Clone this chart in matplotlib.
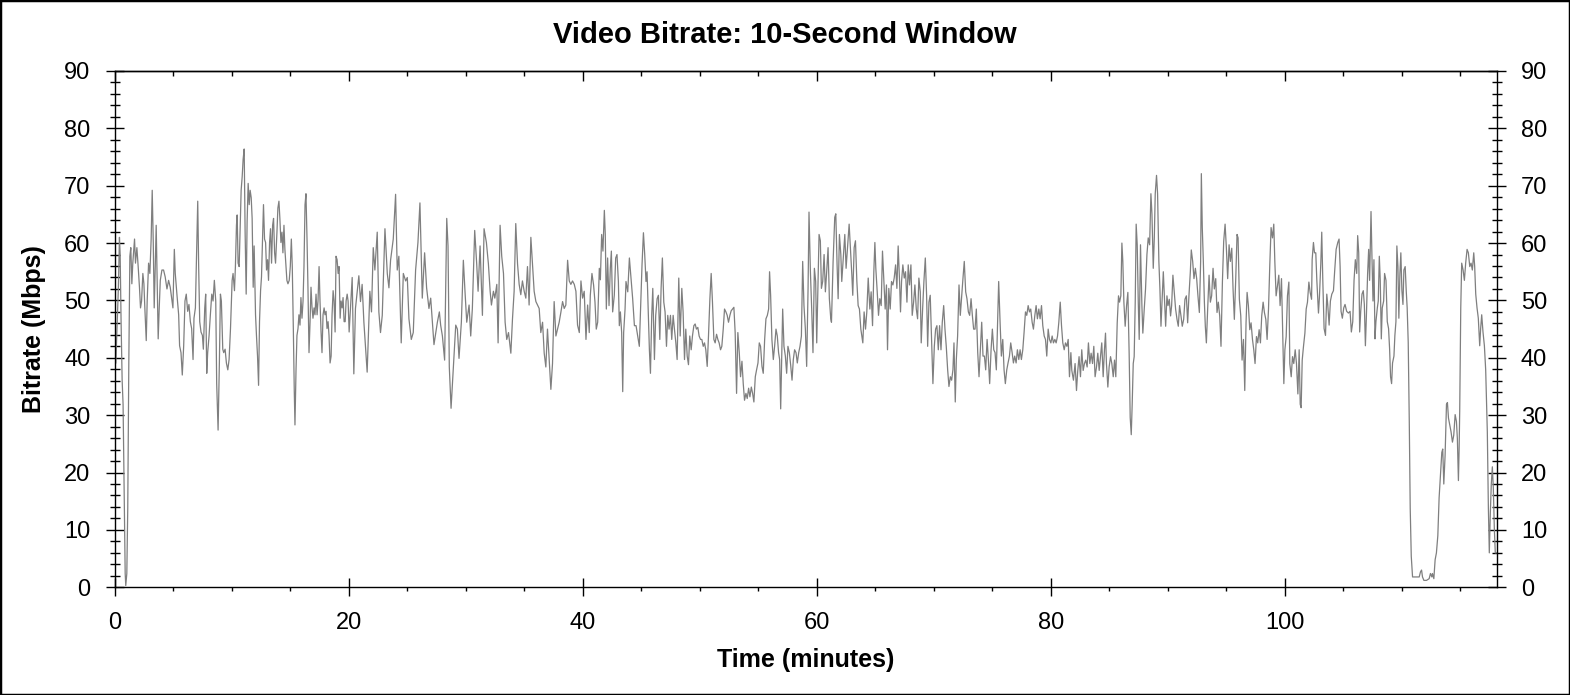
import matplotlib
matplotlib.use("Agg")
import matplotlib.pyplot as plt
from matplotlib.ticker import MultipleLocator
from matplotlib.patches import Rectangle

plt.rcParams["font.family"] = ["Liberation Sans", "DejaVu Sans"]

# --- DATA (minutes, Mbps), one list per stretch ---
seg_0_20 = [
    (0.09, 39.1), (0.31, 52.3), (0.40, 61.0), (0.46, 58.0), (0.54, 46.3), (0.63, 36.1), (0.71, 31.9),
    (0.80, 16.8), (0.89, 2.4), (0.94, 0.3), (1.03, 2.4), (1.11, 13.8), (1.20, 39.1), (1.29, 57.7),
    (1.37, 59.2), (1.46, 52.9), (1.54, 56.5), (1.69, 60.7), (1.77, 56.5), (1.89, 59.2), (2.00, 55.9),
    (2.11, 52.3), (2.20, 48.7), (2.29, 49.9), (2.40, 54.7), (2.49, 52.9), (2.57, 48.7), (2.69, 43.0),
    (2.77, 49.9), (2.89, 56.5), (3.00, 54.7), (3.11, 60.7), (3.20, 69.2), (3.29, 60.1), (3.37, 48.7),
    (3.46, 55.9), (3.54, 63.1), (3.63, 52.9), (3.71, 43.3), (3.80, 48.7), (3.89, 53.5), (4.03, 55.3),
    (4.17, 55.3), (4.31, 54.1), (4.46, 52.0), (4.60, 53.5), (4.74, 52.3), (4.89, 49.9), (4.97, 48.7),
    (5.09, 58.9), (5.17, 54.7), (5.31, 51.1), (5.46, 47.5), (5.54, 42.1), (5.66, 40.9), (5.77, 37.0),
    (5.89, 42.1), (6.00, 49.9), (6.11, 51.1), (6.23, 48.1), (6.34, 49.3), (6.46, 46.3), (6.57, 45.1),
    (6.69, 39.7), (6.77, 46.9), (6.89, 48.7), (6.97, 55.9), (7.09, 67.3), (7.17, 55.9), (7.26, 46.3),
    (7.37, 44.5), (7.49, 43.9), (7.57, 41.5), (7.69, 48.7), (7.77, 51.1), (7.86, 37.3), (7.94, 40.9),
    (8.06, 43.9), (8.17, 47.5), (8.29, 51.1), (8.40, 49.9), (8.51, 53.5), (8.63, 49.9), (8.71, 35.5),
    (8.83, 27.4), (8.94, 39.1), (9.03, 51.1), (9.11, 49.9), (9.23, 41.5), (9.31, 40.9), (9.43, 41.5),
    (9.54, 39.1), (9.66, 37.9), (9.77, 39.7), (9.89, 45.1), (10.03, 53.5), (10.11, 54.7), (10.23, 51.7),
    (10.31, 55.9), (10.40, 63.1), (10.46, 64.9), (10.54, 56.5), (10.63, 55.9), (10.71, 61.9), (10.80, 69.2),
    (10.89, 71.6), (10.97, 74.6), (11.06, 76.4), (11.14, 61.9), (11.23, 51.1), (11.31, 63.7), (11.40, 70.4),
    (11.49, 66.7), (11.57, 69.2), (11.66, 67.9), (11.74, 64.3), (11.83, 52.3), (11.91, 59.5), (12.03, 47.5),
    (12.11, 43.9), (12.20, 40.3), (12.29, 35.2), (12.37, 46.3), (12.46, 51.7), (12.54, 54.1), (12.63, 60.7),
    (12.71, 66.7), (12.80, 60.7), (12.89, 60.1), (12.97, 55.3), (13.06, 57.1), (13.14, 53.5), (13.23, 60.1),
    (13.31, 62.5), (13.40, 56.5), (13.49, 63.1), (13.57, 64.3), (13.66, 58.3), (13.74, 56.5), (13.86, 61.9),
    (13.94, 66.1), (14.03, 67.3), (14.11, 64.3), (14.20, 60.1), (14.29, 61.9), (14.37, 58.3), (14.46, 63.1),
    (14.54, 58.9), (14.63, 55.9), (14.71, 53.5), (14.80, 52.9), (14.91, 53.5), (15.00, 55.9), (15.09, 60.7),
    (15.17, 55.9), (15.26, 45.1), (15.34, 34.3), (15.40, 28.3), (15.49, 37.9), (15.57, 43.9), (15.66, 45.1),
    (15.74, 47.5), (15.83, 45.7), (15.91, 50.5), (16.00, 46.9), (16.09, 49.9), (16.17, 55.9), (16.26, 66.7),
    (16.34, 68.6), (16.43, 60.7), (16.51, 52.3), (16.60, 40.9), (16.69, 46.3), (16.77, 52.3), (16.86, 48.7),
    (16.94, 46.9), (17.03, 48.7), (17.11, 47.5), (17.20, 51.1), (17.29, 47.5), (17.37, 49.9), (17.46, 55.9),
    (17.54, 49.9), (17.63, 44.5), (17.71, 40.9), (17.80, 47.5), (17.89, 48.7), (17.97, 47.5), (18.06, 48.1),
    (18.14, 45.1), (18.23, 46.3), (18.31, 43.9), (18.40, 39.1), (18.49, 40.3), (18.57, 47.5), (18.66, 51.7),
    (18.74, 49.9), (18.83, 44.5), (18.91, 57.7), (19.00, 57.1), (19.09, 54.7), (19.17, 55.9), (19.26, 46.9),
    (19.34, 49.9), (19.43, 48.7), (19.51, 50.5), (19.60, 46.3), (19.69, 46.3), (19.77, 49.9), (19.86, 51.1),
    (19.94, 49.9), (20.03, 44.5),
]

seg_20_40 = [
    (20.29, 54.0), (20.43, 37.2), (20.57, 48.6), (20.86, 54.3), (21.00, 49.8), (21.14, 52.8), (21.29, 46.2),
    (21.57, 37.5), (21.80, 51.6), (21.94, 48.0), (22.09, 59.2), (22.23, 55.3), (22.43, 61.9), (22.57, 48.0),
    (22.71, 44.4), (22.86, 47.4), (23.09, 62.5), (23.29, 54.7), (23.43, 52.2), (23.57, 57.0), (23.80, 60.7),
    (24.00, 68.5), (24.14, 55.3), (24.28, 57.7), (24.48, 42.6), (24.66, 54.7), (24.86, 53.4), (25.00, 54.0),
    (25.14, 46.8), (25.34, 43.2), (25.51, 44.4), (25.71, 55.3), (25.91, 60.1), (26.08, 67.0), (26.28, 50.4),
    (26.48, 58.3), (26.65, 52.2), (26.85, 48.6), (27.00, 50.4), (27.28, 42.3), (27.57, 46.2), (27.74, 48.0),
    (27.85, 45.7), (28.00, 43.8), (28.19, 39.6), (28.37, 64.3), (28.48, 59.5), (28.59, 38.4), (28.74, 31.2),
    (28.94, 38.4), (29.14, 45.7), (29.28, 45.0), (29.42, 39.9), (29.62, 46.2), (29.79, 57.0), (29.93, 51.6),
    (30.08, 46.2), (30.28, 49.2), (30.42, 43.8), (30.56, 48.6), (30.76, 62.2), (30.93, 56.4), (31.05, 51.6),
    (31.22, 59.5), (31.42, 47.4), (31.56, 62.5), (31.76, 60.1), (31.93, 56.4), (32.08, 51.6), (32.19, 49.2),
    (32.36, 51.6), (32.48, 50.4), (32.65, 52.8), (32.76, 42.6), (32.93, 63.1), (33.07, 57.7), (33.22, 54.7),
    (33.36, 46.2), (33.50, 43.2), (33.65, 44.4), (33.85, 40.8), (33.99, 46.8), (34.13, 51.6), (34.27, 63.4),
    (34.42, 56.4), (34.56, 52.8), (34.70, 51.0), (34.84, 53.4), (34.99, 51.6), (35.13, 50.4), (35.27, 55.9),
    (35.41, 49.2), (35.56, 61.0), (35.70, 56.4), (35.84, 51.6), (35.99, 49.8), (36.13, 49.2), (36.27, 48.6),
    (36.41, 44.4), (36.56, 46.2), (36.70, 40.8), (36.84, 38.4), (36.98, 45.0), (37.13, 39.6), (37.27, 34.5),
    (37.41, 39.0), (37.55, 49.8), (37.70, 43.8), (37.84, 45.0), (37.98, 46.2), (38.13, 48.0), (38.27, 49.8),
    (38.41, 48.6), (38.55, 49.2), (38.70, 57.0), (38.84, 53.4), (38.98, 52.8), (39.12, 53.4), (39.27, 52.8),
    (39.41, 51.6), (39.55, 45.7), (39.70, 44.4), (39.84, 53.4), (39.98, 50.4), (40.12, 51.6), (40.27, 43.2),
    (40.41, 49.2), (40.55, 44.4),
]

seg_40_61 = [
    (40.64, 50.9), (40.78, 54.7), (40.92, 52.7), (41.04, 49.7), (41.15, 45.0), (41.27, 46.2), (41.41, 55.6),
    (41.50, 53.6), (41.61, 61.5), (41.72, 58.6), (41.84, 65.7), (41.92, 61.5), (42.01, 48.5), (42.12, 57.4),
    (42.24, 49.1), (42.35, 55.6), (42.44, 58.6), (42.55, 48.0), (42.69, 50.9), (42.81, 57.4), (42.92, 58.0),
    (43.04, 53.3), (43.12, 45.6), (43.21, 48.0), (43.32, 44.4), (43.41, 34.1), (43.49, 44.4), (43.61, 48.5),
    (43.69, 53.3), (43.84, 51.5), (43.98, 57.4), (44.12, 53.9), (44.26, 50.3), (44.41, 45.6), (44.55, 45.6),
    (44.69, 43.8), (44.83, 42.0), (44.98, 51.5), (45.06, 56.2), (45.18, 61.8), (45.29, 58.0), (45.40, 53.3),
    (45.49, 55.0), (45.60, 47.4), (45.69, 41.4), (45.78, 37.3), (45.89, 47.4), (45.98, 52.1), (46.12, 39.7),
    (46.23, 47.4), (46.35, 50.3), (46.46, 50.9), (46.58, 43.2), (46.69, 52.1), (46.80, 57.4), (46.92, 49.7),
    (47.03, 48.0), (47.15, 42.0), (47.26, 47.4), (47.37, 45.0), (47.49, 47.4), (47.60, 43.2), (47.72, 47.4),
    (47.83, 45.0), (47.95, 42.6), (48.06, 39.7), (48.20, 53.9), (48.32, 43.8), (48.46, 52.1), (48.57, 48.0),
    (48.69, 39.7), (48.80, 45.0), (48.92, 40.3), (49.03, 38.8), (49.14, 43.8), (49.26, 41.4), (49.37, 43.8),
    (49.49, 45.6), (49.60, 45.9), (49.71, 45.0), (49.83, 45.3), (49.94, 43.8), (50.06, 43.2), (50.17, 43.2),
    (50.29, 42.0), (50.40, 42.6), (50.51, 41.4), (50.63, 38.5), (50.74, 43.8), (50.86, 50.3), (50.97, 54.7),
    (51.08, 49.7), (51.20, 43.2), (51.31, 42.6), (51.43, 44.1), (51.54, 43.2), (51.65, 42.6), (51.77, 41.4),
    (51.88, 42.0), (52.00, 45.0), (52.11, 48.5), (52.23, 48.0), (52.34, 47.4), (52.45, 46.2), (52.57, 47.4),
    (52.68, 48.2), (52.80, 48.5), (52.91, 48.8), (53.02, 44.4), (53.14, 33.8), (53.25, 44.4), (53.37, 40.9),
    (53.48, 36.7), (53.60, 39.4), (53.71, 35.5), (53.82, 32.6), (53.94, 33.8), (54.05, 32.9), (54.17, 34.7),
    (54.28, 33.2), (54.40, 34.9), (54.51, 33.8), (54.62, 32.3), (54.74, 36.7), (54.85, 37.9), (54.97, 39.1),
    (55.08, 42.6), (55.19, 42.0), (55.31, 38.5), (55.42, 37.3), (55.54, 43.2), (55.65, 46.8), (55.77, 47.4),
    (55.88, 48.5), (55.96, 55.0), (56.05, 50.9), (56.16, 43.2), (56.28, 39.7), (56.39, 42.0), (56.51, 45.0),
    (56.62, 43.8), (56.73, 40.9), (56.82, 39.7), (56.91, 31.1), (56.99, 39.1), (57.08, 48.5), (57.19, 42.0),
    (57.31, 40.3), (57.42, 37.3), (57.53, 42.0), (57.65, 40.9), (57.76, 38.8), (57.88, 36.1), (57.99, 39.7),
    (58.10, 41.4), (58.22, 40.9), (58.33, 39.1), (58.45, 40.9), (58.56, 42.0), (58.68, 43.8), (58.79, 56.8),
    (58.90, 49.1), (59.02, 45.0), (59.13, 38.5), (59.25, 52.1), (59.33, 65.4), (59.45, 55.0), (59.56, 48.5),
    (59.67, 40.9), (59.79, 55.6), (59.90, 53.3), (59.99, 42.6), (60.10, 53.3), (60.19, 61.5), (60.30, 60.4),
    (60.39, 52.1), (60.50, 53.3), (60.62, 58.0), (60.73, 51.5), (60.84, 55.0), (60.96, 59.2), (61.07, 50.3),
    (61.19, 46.8),
]

seg_61_82 = [
    (61.25, 46.2), (61.39, 56.8), (61.53, 64.5), (61.62, 65.1), (61.73, 56.2), (61.82, 50.3), (61.93, 61.5),
    (62.05, 58.0), (62.13, 53.3), (62.24, 56.8), (62.39, 61.5), (62.50, 55.6), (62.64, 59.8), (62.76, 63.3),
    (62.87, 59.2), (62.99, 54.5), (63.07, 50.9), (63.19, 59.2), (63.30, 60.4), (63.42, 53.3), (63.53, 49.1),
    (63.64, 48.5), (63.76, 45.0), (63.93, 42.6), (64.04, 48.0), (64.16, 45.0), (64.27, 48.0), (64.39, 53.9),
    (64.53, 48.5), (64.64, 51.5), (64.76, 45.6), (64.87, 55.0), (64.96, 60.1), (65.04, 55.6), (65.16, 51.5),
    (65.27, 47.4), (65.38, 50.3), (65.50, 49.1), (65.61, 58.6), (65.73, 53.3), (65.84, 48.5), (65.95, 52.7),
    (66.04, 41.4), (66.15, 52.1), (66.27, 48.5), (66.38, 53.3), (66.50, 52.7), (66.61, 53.9), (66.73, 56.2),
    (66.84, 52.1), (66.95, 59.5), (67.07, 53.3), (67.15, 48.0), (67.24, 53.3), (67.35, 56.2), (67.47, 53.9),
    (67.58, 55.0), (67.70, 49.7), (67.81, 56.2), (67.92, 52.7), (68.04, 56.2), (68.15, 47.4), (68.27, 49.7),
    (68.38, 52.7), (68.50, 48.5), (68.61, 46.8), (68.72, 53.9), (68.84, 51.5), (68.92, 42.6), (69.04, 48.5),
    (69.15, 53.3), (69.27, 57.4), (69.38, 50.9), (69.47, 42.0), (69.58, 49.7), (69.69, 50.9), (69.81, 42.6),
    (69.92, 35.5), (70.04, 42.0), (70.15, 45.0), (70.26, 45.6), (70.38, 41.4), (70.49, 45.6), (70.61, 41.4),
    (70.72, 46.2), (70.84, 49.1), (70.95, 45.0), (71.06, 42.0), (71.18, 37.9), (71.29, 35.0), (71.41, 36.7),
    (71.52, 36.1), (71.63, 37.9), (71.72, 42.6), (71.83, 32.3), (71.92, 39.7), (72.03, 43.8), (72.15, 52.7),
    (72.26, 47.4), (72.38, 50.9), (72.49, 53.9), (72.60, 56.8), (72.72, 51.5), (72.83, 50.3), (72.95, 48.0),
    (73.06, 47.4), (73.18, 50.3), (73.29, 47.4), (73.40, 45.0), (73.52, 45.0), (73.63, 48.5), (73.75, 40.9),
    (73.86, 36.7), (73.97, 41.4), (74.09, 46.2), (74.20, 40.3), (74.32, 40.3), (74.43, 37.9), (74.55, 43.2),
    (74.66, 39.7), (74.77, 35.5), (74.89, 41.4), (75.00, 45.0), (75.12, 41.4), (75.23, 40.9), (75.34, 37.9),
    (75.46, 47.4), (75.54, 53.3), (75.66, 46.2), (75.77, 40.3), (75.89, 43.2), (76.00, 37.9), (76.11, 35.5),
    (76.23, 37.9), (76.34, 39.1), (76.46, 40.3), (76.57, 42.6), (76.69, 40.9), (76.80, 39.1), (76.91, 40.3),
    (77.03, 39.1), (77.14, 41.4), (77.26, 39.7), (77.37, 41.4), (77.48, 39.7), (77.60, 41.4), (77.71, 44.4),
    (77.83, 48.0), (77.94, 47.4), (78.06, 49.1), (78.17, 48.0), (78.28, 48.5), (78.40, 46.2), (78.51, 45.0),
    (78.63, 47.4), (78.74, 49.1), (78.85, 46.8), (78.97, 48.5), (79.08, 46.8), (79.20, 49.1), (79.31, 45.6),
    (79.43, 43.8), (79.54, 43.2), (79.65, 40.3), (79.77, 45.0), (79.88, 43.2), (80.00, 42.6), (80.11, 43.8),
    (80.22, 42.6), (80.34, 43.2), (80.45, 42.6), (80.57, 43.8), (80.68, 46.2), (80.80, 49.7), (80.91, 45.6),
    (81.02, 42.6), (81.14, 41.4), (81.25, 42.6), (81.37, 42.0), (81.48, 43.2), (81.59, 36.7), (81.71, 40.9),
]

seg_82_102 = [
    (81.79, 37.8), (81.93, 36.1), (82.07, 39.0), (82.19, 34.3), (82.30, 37.8), (82.41, 40.2), (82.53, 36.7),
    (82.64, 41.4), (82.76, 37.8), (82.87, 39.0), (82.98, 39.6), (83.10, 38.4), (83.21, 42.6), (83.33, 39.0),
    (83.44, 40.8), (83.56, 39.0), (83.67, 42.0), (83.78, 36.7), (83.90, 38.4), (84.01, 40.8), (84.13, 37.8),
    (84.24, 40.2), (84.35, 42.6), (84.47, 36.7), (84.58, 41.4), (84.67, 44.3), (84.75, 39.0), (84.87, 34.9),
    (84.98, 38.4), (85.10, 40.2), (85.21, 39.0), (85.33, 36.7), (85.44, 39.6), (85.55, 36.7), (85.67, 46.1),
    (85.78, 50.8), (85.87, 49.7), (85.98, 50.8), (86.07, 60.0), (86.15, 56.8), (86.24, 49.7), (86.35, 45.5),
    (86.47, 49.1), (86.58, 51.4), (86.69, 40.8), (86.78, 29.6), (86.87, 26.6), (86.95, 31.9), (87.04, 39.0),
    (87.12, 40.2), (87.21, 49.7), (87.29, 63.3), (87.38, 59.7), (87.47, 49.7), (87.55, 43.2), (87.66, 59.7),
    (87.78, 49.1), (87.86, 44.3), (87.98, 48.5), (88.09, 52.0), (88.21, 58.0), (88.32, 60.9), (88.44, 59.7),
    (88.55, 68.6), (88.64, 65.0), (88.75, 55.6), (88.84, 60.9), (88.92, 68.6), (89.03, 71.8), (89.12, 68.6),
    (89.23, 56.8), (89.32, 52.0), (89.41, 45.5), (89.52, 50.8), (89.61, 55.0), (89.72, 49.7), (89.81, 45.5),
    (89.92, 50.8), (90.01, 49.1), (90.12, 50.2), (90.23, 47.3), (90.32, 49.1), (90.43, 54.4), (90.55, 51.4),
    (90.66, 48.5), (90.78, 46.7), (90.89, 45.5), (91.00, 49.1), (91.12, 47.3), (91.23, 45.5), (91.35, 46.7),
    (91.46, 50.2), (91.58, 50.8), (91.69, 46.1), (91.80, 50.8), (91.92, 55.0), (92.00, 58.8), (92.12, 56.8),
    (92.23, 53.8), (92.35, 55.6), (92.46, 53.8), (92.57, 50.8), (92.69, 47.9), (92.80, 56.8), (92.86, 72.1),
    (92.94, 62.7), (93.03, 56.8), (93.12, 49.7), (93.20, 45.5), (93.29, 42.6), (93.40, 48.5), (93.52, 54.4),
    (93.63, 49.7), (93.74, 50.8), (93.86, 55.6), (93.97, 52.0), (94.09, 53.8), (94.20, 47.9), (94.31, 49.7),
    (94.43, 47.3), (94.54, 42.0), (94.66, 53.2), (94.77, 60.3), (94.89, 63.3), (95.00, 59.1), (95.11, 53.8),
    (95.23, 59.7), (95.34, 56.8), (95.46, 59.1), (95.57, 52.0), (95.68, 46.7), (95.80, 53.8), (95.91, 61.5),
    (96.00, 60.9), (96.11, 50.2), (96.23, 47.3), (96.34, 39.6), (96.46, 43.2), (96.57, 34.3), (96.68, 46.1),
    (96.77, 51.4), (96.88, 49.1), (97.00, 44.9), (97.11, 46.1), (97.23, 43.2), (97.34, 41.4), (97.45, 39.0),
    (97.57, 43.7), (97.68, 42.6), (97.80, 44.9), (97.91, 42.6), (98.02, 47.3), (98.14, 49.7), (98.25, 47.9),
    (98.37, 46.7), (98.48, 43.2), (98.60, 48.5), (98.71, 56.2), (98.82, 62.7), (98.94, 60.9), (99.05, 63.3),
    (99.14, 56.8), (99.25, 50.8), (99.37, 52.6), (99.48, 54.4), (99.59, 49.1), (99.71, 53.8), (99.82, 43.7),
    (99.91, 35.5), (100.00, 41.4), (100.11, 43.7), (100.22, 50.8), (100.34, 53.2), (100.42, 39.0),
    (100.54, 36.7), (100.65, 40.2), (100.76, 39.0), (100.88, 41.4), (100.99, 39.0), (101.11, 33.7),
    (101.22, 41.4), (101.31, 31.9), (101.39, 31.3), (101.48, 39.6), (101.59, 42.0), (101.71, 44.3),
    (101.82, 48.5), (101.93, 49.7), (102.05, 53.2), (102.16, 51.4), (102.28, 50.2),
]

seg_102_end = [
    (102.33, 57.1), (102.44, 60.1), (102.53, 58.3), (102.64, 58.3), (102.73, 53.5), (102.87, 47.8),
    (102.95, 50.5), (103.07, 56.5), (103.15, 61.9), (103.24, 53.5), (103.35, 45.1), (103.47, 43.9),
    (103.58, 51.1), (103.66, 49.3), (103.78, 45.7), (103.89, 49.9), (104.01, 51.1), (104.15, 51.7),
    (104.26, 55.3), (104.38, 58.9), (104.52, 60.1), (104.63, 60.7), (104.72, 55.9), (104.80, 48.1),
    (104.91, 46.9), (105.03, 48.7), (105.14, 49.3), (105.28, 48.1), (105.43, 47.8), (105.57, 48.1),
    (105.68, 44.5), (105.80, 46.3), (105.91, 53.5), (106.02, 57.1), (106.14, 54.7), (106.22, 61.3),
    (106.31, 58.3), (106.39, 44.5), (106.48, 48.1), (106.59, 51.1), (106.70, 51.7), (106.79, 49.3),
    (106.88, 42.1), (106.96, 46.9), (107.07, 54.7), (107.16, 58.9), (107.24, 53.5), (107.36, 65.5),
    (107.44, 57.7), (107.53, 49.9), (107.61, 57.1), (107.70, 43.3), (107.78, 46.3), (107.90, 48.7),
    (107.98, 49.9), (108.07, 57.7), (108.15, 53.5), (108.24, 43.3), (108.32, 48.7), (108.44, 49.9),
    (108.52, 54.7), (108.64, 53.5), (108.75, 46.3), (108.86, 45.1), (108.95, 41.5), (109.03, 36.7),
    (109.12, 35.5), (109.20, 39.1), (109.32, 40.3), (109.40, 43.9), (109.49, 46.3), (109.57, 59.5),
    (109.66, 55.9), (109.74, 46.9), (109.83, 54.7), (109.91, 58.3), (110.00, 51.7), (110.09, 49.3),
    (110.17, 55.3), (110.28, 55.9), (110.37, 51.7), (110.45, 48.7), (110.54, 42.7), (110.63, 28.9),
    (110.71, 13.8), (110.80, 5.4), (110.91, 1.8), (111.02, 1.8), (111.25, 1.8), (111.48, 1.8),
    (111.59, 2.7), (111.68, 3.0), (111.76, 1.8), (111.88, 1.2), (112.10, 1.2), (112.33, 1.5),
    (112.44, 2.4), (112.56, 1.8), (112.61, 2.4), (112.73, 1.5), (112.84, 4.8), (112.95, 6.0),
    (113.07, 9.0), (113.18, 15.6), (113.30, 19.8), (113.41, 23.5), (113.49, 24.1), (113.58, 18.0),
    (113.69, 22.9), (113.81, 31.9), (113.89, 32.2), (113.98, 29.5), (114.09, 28.3), (114.20, 27.1),
    (114.32, 25.3), (114.43, 26.5), (114.55, 30.1), (114.66, 28.9), (114.74, 25.9), (114.83, 18.6),
    (114.89, 24.1), (114.94, 30.7), (115.03, 48.7), (115.11, 56.5), (115.23, 55.3), (115.34, 53.5),
    (115.45, 56.5), (115.57, 58.9), (115.68, 58.3), (115.80, 55.9), (115.91, 56.5), (116.02, 55.3),
    (116.14, 58.3), (116.22, 55.9), (116.31, 51.1), (116.42, 48.7), (116.53, 46.9), (116.65, 42.1),
    (116.73, 45.1), (116.82, 47.5), (116.93, 44.5), (117.05, 42.1), (117.16, 37.9), (117.24, 31.9),
    (117.30, 27.1), (117.39, 13.8), (117.47, 6.0), (117.56, 13.2), (117.64, 18.0), (117.73, 21.0),
    (117.81, 17.4), (117.90, 10.2), (117.98, 6.0), (118.07, 6.0),
]

X_MAX = 118.1
Y_MAX = 90

points = seg_0_20 + seg_20_40 + seg_40_61 + seg_61_82 + seg_82_102 + seg_102_end
time_min = [p[0] for p in points]
bitrate = [p[1] for p in points]

# --- FIGURE ---
fig = plt.figure(figsize=(15.7, 6.95), dpi=100)
ax = fig.add_axes([0.0731, 0.1550, 0.8802, 0.7429])

ax.plot(time_min, bitrate, color="#7f7f7f", lw=0.9)

ax.set_xlim(0, X_MAX)
ax.set_ylim(0, Y_MAX)

ax.xaxis.set_major_locator(MultipleLocator(20))
ax.xaxis.set_minor_locator(MultipleLocator(5))
ax.yaxis.set_major_locator(MultipleLocator(10))
ax.yaxis.set_minor_locator(MultipleLocator(2))

for s in ax.spines.values():
    s.set_linewidth(1.0)

# y ticks cross the frame on both sides
ax.tick_params(axis="y", which="major", direction="inout", length=13, width=1,
               left=True, right=True, labelleft=True, labelright=True,
               labelsize=17, pad=11)
ax.tick_params(axis="y", which="minor", direction="inout", length=6.5, width=1,
               left=True, right=True)
# bottom x ticks
ax.tick_params(axis="x", which="major", direction="inout", length=13, width=1,
               top=False, labelsize=17, pad=11)
ax.tick_params(axis="x", which="minor", direction="out", length=3, width=1, top=False)

# top axis: inward ticks only
top = ax.secondary_xaxis("top")
top.xaxis.set_major_locator(MultipleLocator(20))
top.xaxis.set_minor_locator(MultipleLocator(5))
top.tick_params(which="major", direction="in", length=7, width=1, labeltop=False)
top.tick_params(which="minor", direction="in", length=3.6, width=1)
top.spines["top"].set_linewidth(1.0)

ax.set_xlabel("Time (minutes)", fontsize=18, fontweight="bold")
ax.xaxis.set_label_coords(0.5, -0.117)
ax.set_ylabel("Bitrate (Mbps)", fontsize=18, fontweight="bold")
ax.yaxis.set_label_coords(-0.0497, 0.5)

fig.text(0.5, 1 - 43.3 / 695, "Video Bitrate: 10-Second Window", ha="center", va="baseline",
         fontsize=21, fontweight="bold")

# thin frame round the whole picture
fig.patches.append(Rectangle((0, 0), 1, 1, transform=fig.transFigure, fill=False,
                             edgecolor="black", lw=2.5))

fig.savefig("out.png", dpi=100)
